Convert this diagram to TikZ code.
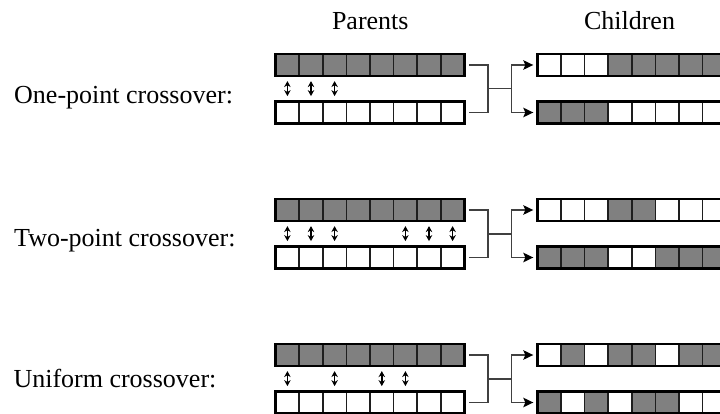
\documentclass[tikz,border=0pt]{standalone}
\usepackage{fontspec}
\setmainfont{Liberation Serif}
\usetikzlibrary{calc,arrows.meta}
\definecolor{cellgray}{RGB}{128,128,128}
\definecolor{linegray}{RGB}{64,64,64}
\definecolor{sepgray}{RGB}{30,30,30}
\tikzset{
  rowbox/.style={minimum width=188.8pt, minimum height=22.2pt, inner sep=0pt, outer sep=0pt, anchor=west},
  rowborder/.style={draw=black, line width=2.7pt},
  sepline/.style={draw=sepgray, line width=1.6pt},
  g/.style={fill=cellgray}, w/.style={fill=white},
  swaparrow/.style={{Stealth[length=6pt,width=6.5pt]}-{Stealth[length=6pt,width=6.5pt]}, line width=1.5pt},
  conn/.style={draw=linegray, line width=1.5pt},
  connarrow/.style={conn, -{Stealth[length=10pt,width=9.5pt,inset=2pt,black]}},
  lbl/.style={font=\fontsize{26}{30}\selectfont, inner sep=0pt, anchor=base west},
  ttl/.style={font=\fontsize{26}{30}\selectfont, inner sep=0pt, anchor=base}
}
\newcommand\drawchromo[4]{%
  \node[rowbox] (#1) at (#2,#3) {};
  \foreach \col [count=\i from 0] in {#4} {\path[\col] ($(#1.north west)+(\i*23.6,0)$) rectangle ++(23.6,22.2);}
  \foreach \i in {1,...,7} {\draw[sepline] ($(#1.north west)+(\i*23.6,0)$) -- ++(0,22.2);}
  \draw[rowborder] (#1.north west) rectangle (#1.south east);
}
\newcommand\drawswaps[3]{%
  \foreach \k in {#3} {\draw[swaparrow] ($(#1.south west)+({(\k-0.5)*23.6},5)$) -- ($(#2.north west)+({(\k-0.5)*23.6},-5.3)$);}
}
\newcommand\drawlinks[5]{% pa pb ca cb index
  \coordinate (m#5) at ($(#1.east)!0.5!(#2.east)+(23.6,0)$);
  \coordinate (n#5) at ($(m#5)+(23.7,0)$);
  \draw[conn] ([xshift=4.5pt]#1.east) -| (m#5) |- ([xshift=4.5pt]#2.east);
  \draw[conn] (m#5) -- (n#5);
  \draw[connarrow] (n#5) |- ([xshift=-4pt]#3.west);
  \draw[connarrow] (n#5) |- ([xshift=-4pt]#4.west);
}
\begin{document}
\begin{tikzpicture}[x=1pt,y=-1pt]
\useasboundingbox (0,0) rectangle (720,414);
\clip (0,0) rectangle (720,414);
\node[ttl] (tp) at (370.3,29.3) {Parents};
\node[ttl] (tc) at (629.5,29.3) {Children};
\node[lbl] (l1) at (14,103.3) {One-point crossover:};
\node[lbl] (l2) at (14,246.5) {Two-point crossover:};
\node[lbl] (l3) at (13.3,387.3) {Uniform crossover:};
% set 1
\drawchromo{p1a}{275.6}{65}{g,g,g,g,g,g,g,g}
\drawchromo{p1b}{275.6}{112.5}{w,w,w,w,w,w,w,w}
\drawchromo{c1a}{537.3}{65}{w,w,w,g,g,g,g,g}
\drawchromo{c1b}{537.3}{112.5}{g,g,g,w,w,w,w,w}
\drawswaps{p1a}{p1b}{1,2,3}
\drawlinks{p1a}{p1b}{c1a}{c1b}{1}
% set 2
\drawchromo{p2a}{275.6}{210}{g,g,g,g,g,g,g,g}
\drawchromo{p2b}{275.6}{257.5}{w,w,w,w,w,w,w,w}
\drawchromo{c2a}{537.3}{210}{w,w,w,g,g,w,w,w}
\drawchromo{c2b}{537.3}{257.5}{g,g,g,w,w,g,g,g}
\drawswaps{p2a}{p2b}{1,2,3,6,7,8}
\drawlinks{p2a}{p2b}{c2a}{c2b}{2}
% set 3
\drawchromo{p3a}{275.6}{355}{g,g,g,g,g,g,g,g}
\drawchromo{p3b}{275.6}{402.5}{w,w,w,w,w,w,w,w}
\drawchromo{c3a}{537.3}{355}{w,g,w,g,g,w,g,g}
\drawchromo{c3b}{537.3}{402.5}{g,w,g,w,g,g,w,w}
\drawswaps{p3a}{p3b}{1,3,5,6}
\drawlinks{p3a}{p3b}{c3a}{c3b}{3}
\end{tikzpicture}
\end{document}
